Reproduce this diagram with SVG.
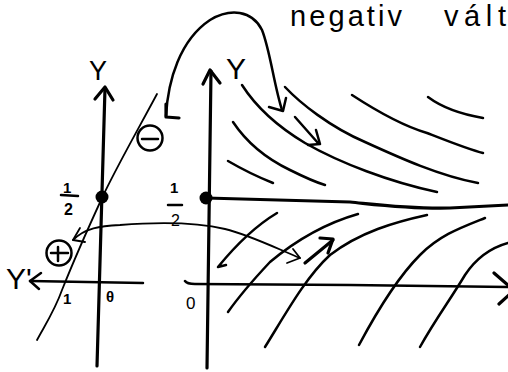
<svg xmlns="http://www.w3.org/2000/svg" width="508" height="372" viewBox="0 0 508 372">
<style>
.ln{fill:none;stroke:#000;stroke-width:2.5;stroke-linecap:round;stroke-linejoin:round}
.ax{fill:none;stroke:#000;stroke-width:3.2;stroke-linecap:round;stroke-linejoin:round}
.th{fill:none;stroke:#000;stroke-width:1.8;stroke-linecap:round;stroke-linejoin:round}
.tx{font-family:"Liberation Sans",Arial,sans-serif;fill:#000}
</style>
<rect width="508" height="372" fill="#fff"/>
<g id="title">
<text class="tx" x="290" y="26" font-size="29" textLength="112" lengthAdjust="spacing">negativ</text>
<text class="tx" x="444" y="26" font-size="29" textLength="62" lengthAdjust="spacing">vált</text>
</g>
<g id="left-axes">
<path class="ax" d="M105,88 L97,366"/>
<path class="ax" d="M95,99 L105,87 L113,100"/>
<path class="ln" d="M143,283 L30,281"/>
<path class="ln" d="M41,273 L30,281 L39,289"/>
<text class="tx" x="89" y="80" font-size="27">Y</text>
<text class="tx" x="6" y="289" font-size="30">Y'</text>
<text class="tx" x="63" y="304" font-size="15" font-weight="bold">1</text>
<text class="tx" x="106" y="302" font-size="15" font-weight="bold">θ</text>
</g>
<g id="left-curve">
<path class="th" d="M157,94 C135,135 115,170 102,198 C85,235 70,270 62,290 C55,310 45,325 37,340"/>
<circle cx="102" cy="197" r="6.5" fill="#000"/>
<text class="tx" x="63" y="193" font-size="15" font-weight="bold">1</text>
<path class="ln" d="M61,195 L78,196"/>
<text class="tx" x="64" y="215" font-size="16" font-weight="bold">2</text>
<circle class="ln" cx="150" cy="138" r="12.5"/>
<path class="ln" d="M142,139 L158,139"/>
<circle class="ln" cx="59" cy="253" r="12.5"/>
<path class="ln" d="M51,253 L68,253 M58,247 L58,261"/>
</g>
<g id="right-axes">
<path class="ax" d="M211,71 L207,368"/>
<path class="ax" d="M203,84 L210,70 L220,83"/>
<path class="ln" d="M185,281 Q187,284 195,284 L350,285 L508,287"/>
<path class="ax" d="M494,273 L509,286 M499,304 L509,295"/>
<text class="tx" x="226" y="79" font-size="30">Y</text>
<text class="tx" x="186" y="309" font-size="17">0</text>
<circle cx="206" cy="198" r="6.5" fill="#000"/>
<path class="ax" d="M206,198 L350,202 C380,205 410,209 450,208 L508,205"/>
<text class="tx" x="170" y="193" font-size="15" font-weight="bold">1</text>
<path class="ln" d="M168,205 L182,205"/>
<text class="tx" x="171" y="226" font-size="16">2</text>
</g>
<g id="field-upper">
<path class="ln" d="M242,85 C258,110 280,128 305,143 C340,163 390,182 437,192"/>
<path class="ln" d="M285,87 C300,103 330,127 365,142 C400,158 440,176 478,183"/>
<path class="ln" d="M233,122 C245,140 265,158 290,170 C302,176 315,182 325,185"/>
<path class="ln" d="M228,161 C240,168 258,177 273,183"/>
<path class="ln" d="M352,95 C375,110 400,125 427,133 C450,142 470,150 483,153"/>
<path class="ln" d="M428,97 C440,106 460,114 483,118"/>
<path class="ln" d="M295,117 L318,143"/>
<path class="ln" d="M316,130 L320,144 L308,145"/>
</g>
<g id="field-lower">
<path class="ln" d="M277,213 C262,222 240,240 218,267 L226,265"/>
<path class="ln" d="M358,214 C330,222 300,237 270,262 C255,278 240,295 228,312"/>
<path class="ln" d="M427,215 C395,222 360,232 330,255 C305,278 285,315 265,347"/>
<path class="ln" d="M485,218 C460,228 440,235 420,255 C395,280 375,315 359,345"/>
<path class="ln" d="M508,243 C490,248 475,260 465,275 C450,300 435,320 420,347"/>
<path class="ax" d="M305,263 L333,240"/>
<path class="ax" d="M320,238 L333,239 L328,253"/>
</g>
<g id="connectors">
<path class="ln" d="M166,116 C168,80 180,40 210,20 C230,8 252,10 262,30 C270,50 274,85 282,110"/>
<path class="ax" d="M166,104 L166,117 L179,118"/>
<path class="ln" d="M269,107 L283,111 L286,98"/>
<path class="th" d="M73,240 C85,228 100,226 120,225 C160,222 195,222 225,229 C250,235 280,250 300,258"/>
<path class="th" d="M80,228 L73,240 L85,242"/>
<path class="th" d="M293,249 L300,258 L287,263"/>
</g>
</svg>
